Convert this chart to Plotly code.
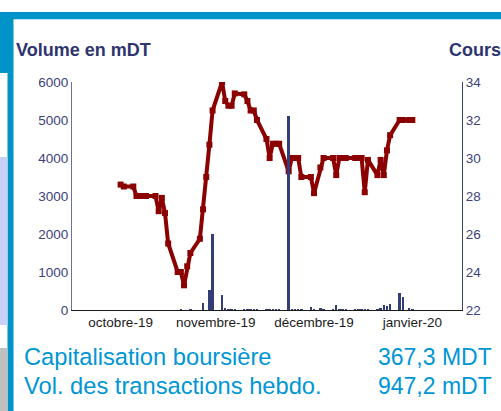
import plotly.graph_objects as go

# ---------------- data ----------------
dates = [
    "2019-10-03", "2019-10-04", "2019-10-07", "2019-10-08", "2019-10-09", "2019-10-10", "2019-10-11",
    "2019-10-14", "2019-10-15", "2019-10-16", "2019-10-17", "2019-10-18",
    "2019-10-21", "2019-10-22", "2019-10-23", "2019-10-24", "2019-10-25",
    "2019-10-28", "2019-10-29", "2019-10-30", "2019-10-31", "2019-11-01",
    "2019-11-04", "2019-11-05", "2019-11-06", "2019-11-07", "2019-11-08",
    "2019-11-11", "2019-11-12", "2019-11-13", "2019-11-14", "2019-11-15",
    "2019-11-18", "2019-11-19", "2019-11-20", "2019-11-21", "2019-11-22",
    "2019-11-25", "2019-11-26", "2019-11-27", "2019-11-28", "2019-11-29",
    "2019-12-02", "2019-12-03", "2019-12-05", "2019-12-06",
    "2019-12-09", "2019-12-10", "2019-12-11", "2019-12-12", "2019-12-13",
    "2019-12-16", "2019-12-17", "2019-12-18", "2019-12-19", "2019-12-20",
    "2019-12-23", "2019-12-24", "2019-12-25", "2019-12-26", "2019-12-27",
    "2019-12-30", "2019-12-31", "2020-01-02", "2020-01-03",
]
cours = [
    28.6, 28.5, 28.5, 28.0, 28.0, 28.0, 28.0,
    28.0, 27.2, 27.9, 27.1, 25.5,
    24.0, 24.0, 23.3, 24.3, 25.0,
    25.75, 27.3, 29.0, 30.7, 32.5,
    34.0, 33.0, 32.75, 32.75, 33.4,
    33.35, 33.0, 32.5, 32.5, 32.0,
    31.0, 30.0, 30.75, 30.75, 30.75,
    29.3, 30.0, 30.0, 30.0, 29.0,
    29.0, 28.15, 29.5, 30.0,
    30.0, 29.1, 30.0, 30.0, 30.0,
    30.0, 30.0, 30.0, 28.2, 29.9,
    29.1, 29.9, 29.1, 30.4, 31.2,
    32.0, 32.0, 32.0, 32.0,
]
volume = [
    0, 0, 0, 0, 0, 0, 0,
    0, 0, 0, 0, 0,
    0, 10, 0, 0, 10,
    0, 175, 0, 525, 2000,
    395, 45, 20, 20, 15,
    10, 15, 10, 15, 10,
    20, 10, 10, 5, 10,
    5100, 10, 5, 20, 10,
    70, 10, 45, 20,
    10, 130, 10, 15, 15,
    10, 10, 25, 25, 10,
    15, 60, 120, 110, 160,
    450, 350, 60, 15,
]
tick_dates = ["2019-10-03", "2019-11-02", "2019-12-03", "2020-01-03"]
tick_labels = ["octobre-19", "novembre-19", "décembre-19", "janvier-20"]
left_title = "Volume en mDT"
right_title = "Cours"
info_labels = ["Capitalisation boursière", "Vol. des transactions hebdo."]
info_values = ["367,3 MDT", "947,2 mDT"]

# ---------------- layout helpers ----------------
W, H = 501, 411
L, R, T, B = 72, 39, 82, 101
PW, PH = W - L - R, H - T - B

def px(x):
    return (x - L) / PW

def py(y):
    return (H - B - y) / PH

FONT = "Arial, Liberation Sans, sans-serif"
NAVY = "#2E3470"
BLUE = "#0093C8"
TXTBLUE = "#0096D6"

fig = go.Figure()
fig.add_trace(go.Scatter(
    x=dates, y=cours, mode="lines+markers", yaxis="y",
    line=dict(color="#8B0000", width=4),
    marker=dict(symbol="square", size=6, color="#8B0000"),
    showlegend=False, hoverinfo="skip",
))
fig.add_trace(go.Bar(
    x=dates, y=volume, yaxis="y2",
    marker=dict(color="#333D78", line=dict(width=0)),
    width=0.75 * 86400000,
    showlegend=False, hoverinfo="skip",
))

shapes = []
def rect(x0, y0, x1, y1, color):
    shapes.append(dict(type="rect", xref="paper", yref="paper",
                       x0=px(x0), x1=px(x1), y0=py(y0), y1=py(y1),
                       fillcolor=color, line=dict(width=0), layer="below"))

rect(0, 12, W, 19.3, BLUE)
rect(0, 12, 13.5, 73, BLUE)
rect(7.5, 73, 13.5, H, BLUE)
rect(0, 157, 7.5, 325, "#C9D1F7")
rect(0, 348, 7.5, H, "#C0C0C0")

annotations = [
    dict(text=f"<b>{left_title}</b>", x=px(14), y=py(50), xanchor="left", yanchor="middle",
         font=dict(size=18, color=NAVY, family=FONT)),
    dict(text=f"<b>{right_title}</b>", x=px(446.5), y=py(50), xanchor="left", yanchor="middle",
         font=dict(size=18, color=NAVY, family=FONT)),
]
for i, (lab, val) in enumerate(zip(info_labels, info_values)):
    yc = 356.5 + 29.5 * i
    annotations.append(dict(text=lab, x=px(22), y=py(yc), xanchor="left", yanchor="middle",
                            font=dict(size=23.7, color=TXTBLUE, family=FONT)))
    annotations.append(dict(text=val, x=px(494.5), y=py(yc), xanchor="right", yanchor="middle",
                            font=dict(size=23, color=TXTBLUE, family=FONT)))
for a in annotations:
    a.update(xref="paper", yref="paper", showarrow=False)

fig.update_layout(
    width=W, height=H,
    margin=dict(l=L, r=R, t=T, b=B, pad=0),
    paper_bgcolor="white", plot_bgcolor="white",
    font=dict(family=FONT),
    bargap=0,
    xaxis=dict(type="date", range=["2019-09-17 16:00", "2020-01-18 16:00"],
               tickvals=tick_dates, ticktext=tick_labels, ticks="",
               tickfont=dict(size=13.5, color="#1A1A1A", family=FONT),
               showline=True, linecolor="#1A1A1A", linewidth=1,
               showgrid=False, zeroline=False, fixedrange=True),
    yaxis=dict(side="right", range=[22, 34], tick0=22, dtick=2, ticks="",
               tickfont=dict(size=13.5, color="#3C4279", family=FONT),
               showline=True, linecolor="#3A4278", linewidth=1,
               showgrid=False, zeroline=False),
    yaxis2=dict(side="left", overlaying="y", anchor="x", range=[0, 6000], tick0=0, dtick=1000,
                ticks="", tickfont=dict(size=13.5, color="#3C4279", family=FONT),
                showline=True, linecolor="#6B7199", linewidth=1,
                showgrid=False, zeroline=False),
    shapes=shapes,
    annotations=annotations,
)

fig.write_html("out.html")
